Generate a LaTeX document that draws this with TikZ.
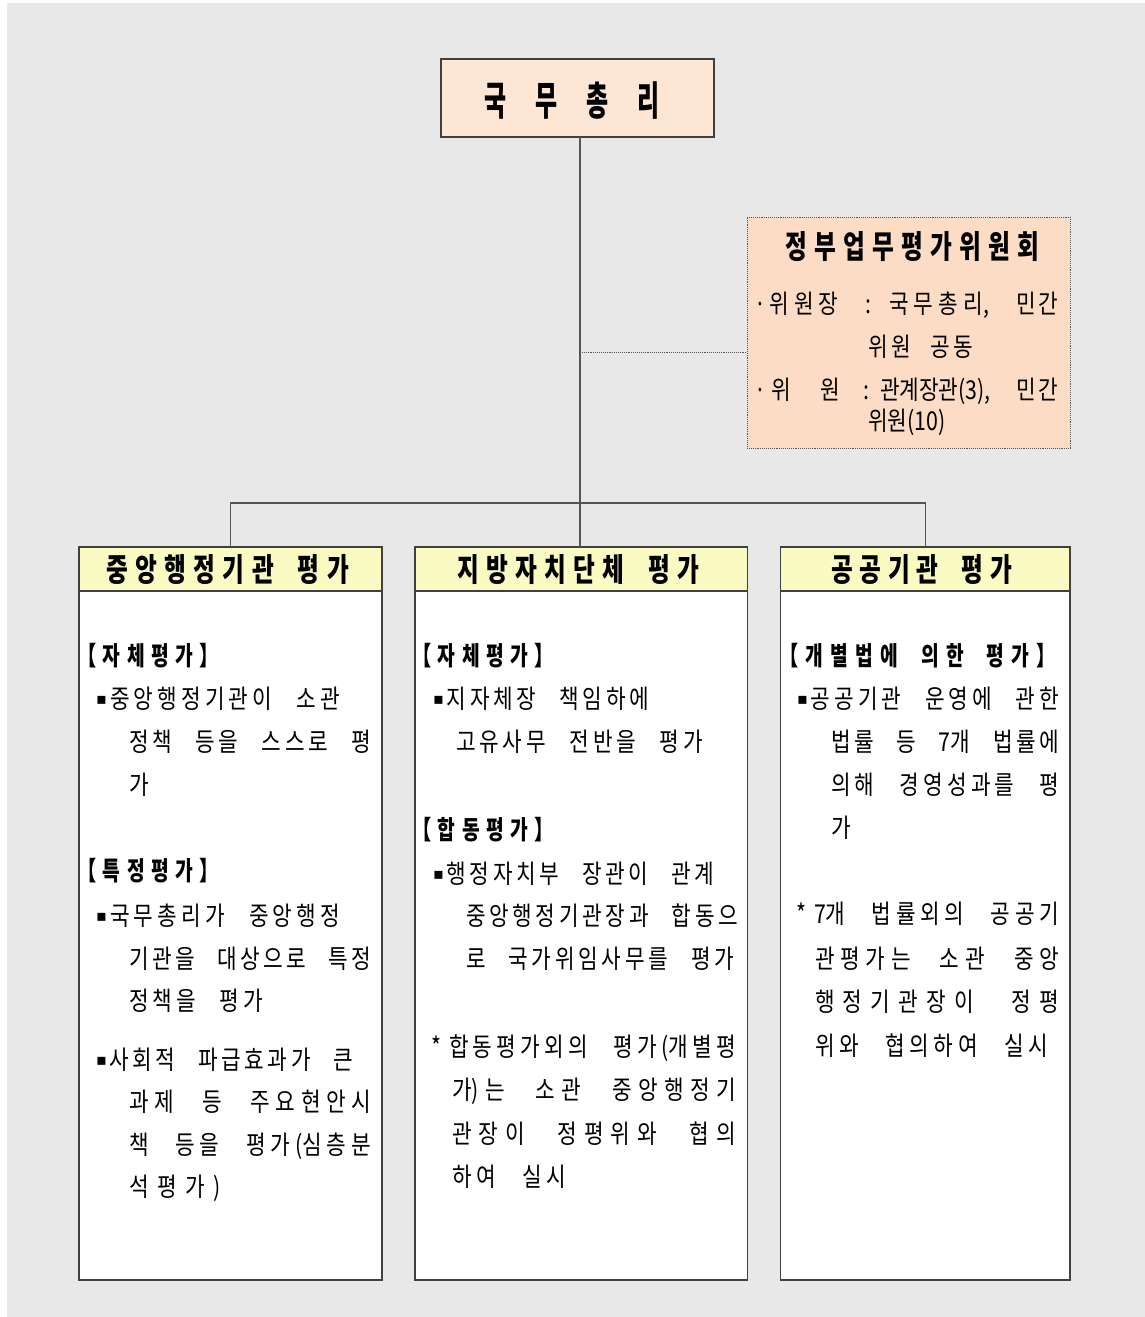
\documentclass[tikz,border=0pt]{standalone}
\usepackage{fontspec}
\usepackage{graphicx}
\newfontfamily\krA[FakeStretch=0.82]{Noto Sans CJK KR}
\newfontfamily\krB[FakeStretch=0.74]{Noto Sans CJK KR}
\newfontfamily\krT[FakeStretch=0.6]{Noto Sans CJK KR}
\newfontfamily\dvs{DejaVu Sans}
\definecolor{bg}{HTML}{E8E8E8}
\definecolor{bdr}{HTML}{404040}
\definecolor{lnc}{HTML}{555555}
\definecolor{pmfill}{HTML}{FDE6D3}
\definecolor{cmfill}{HTML}{FCDCC4}
\definecolor{hdfill}{HTML}{FAFAC3}
\newcommand\bul{\makebox[10pt][l]{\raisebox{4pt}{\dvs\fontsize{16}{16}\selectfont ▪}}}
\newcommand\mdot{\makebox[10pt][c]{·}}
\newcommand\bt{\krA\fontsize{26}{26}\selectfont}
\newcommand\hb{\krB\bfseries\fontsize{26}{26}\selectfont}
\newcommand\hh{\krB\bfseries\fontsize{32}{32}\selectfont}
\ExplSyntaxOn
\tl_new:N \l_my_wordglue_tl
\cs_new:Npn \my_spread_item:n #1
  { \str_if_eq:nnTF {#1} {|} { \hskip \l_my_wordglue_tl } { #1 \hskip 0pt plus 1fil } }
\NewDocumentCommand \spread { O{12pt~plus~2fil} m m }
  { \tl_set:Nn \l_my_wordglue_tl {#1}
    \hbox to #2 { \tl_map_function:nN {#3} \my_spread_item:n \unskip } }
\ExplSyntaxOff
\begin{document}
\begin{tikzpicture}[x=1pt,y=-1pt,
  txt/.style={anchor=base west, inner sep=0pt, outer sep=0pt},
  box/.style={draw=bdr, line width=1.3pt, inner sep=0pt, outer sep=0pt},
  conn/.style={draw=lnc, line width=1.4pt},
  dline/.style={draw=lnc, line width=0.9pt, densely dotted}]
\useasboundingbox (0,0) rectangle (1145,1317);
\fill[bg] (7,3) rectangle (1145,1317);

% connector points
\coordinate (j) at (580,503);
\coordinate (d) at (580,352);

% boxes
\node[box, fill=pmfill, minimum width=273pt, minimum height=78pt] (pm) at (577.5,98) {};
\node[box, draw=lnc, line width=0.9pt, densely dotted, fill=cmfill, minimum width=323pt, minimum height=231pt] (cmt) at (908.5,332.5) {};

\node[box, fill=white, minimum width=303pt, minimum height=733pt] (bL) at (230.5,913.5) {};
\node[box, fill=white, minimum width=332.5pt, minimum height=733pt] (bM) at (581.25,913.5) {};
\node[box, fill=white, minimum width=289.5pt, minimum height=733pt] (bR) at (925.25,913.5) {};
\node[box, fill=hdfill, minimum width=303pt, minimum height=44pt] (hL) at (230.5,569) {};
\node[box, fill=hdfill, minimum width=332.5pt, minimum height=44pt] (hM) at (581.25,569) {};
\node[box, fill=hdfill, minimum width=289.5pt, minimum height=44pt] (hR) at (925.25,569) {};

\draw[conn] (pm.south -| j) -- (j);
\draw[conn] (hL.north) |- (j) -| (hR.north);
\draw[conn] (j) -- (j |- hM.north);
\draw[dline] (d) -- (d -| cmt.west);

% title
\node[txt] (pmt) at (484,115) {\krT\bfseries\fontsize{40}{40}\selectfont\spread{176pt}{국무총리}};

% committee
\node[txt] (ct) at (785,258) {\hh\spread{254pt}{정부업무평가위원회}};
\node[txt] (c1a) at (755,313) {\bt\spread{83pt}{{\mdot}위원장}};
\node[txt] (c1b) at (865,313) {\bt :};
\node[txt] (c1c) at (889,313) {\bt\spread{100pt}{국무총{리,}}};
\node[txt] (c1d) at (1016,313) {\bt\spread{42pt}{민간}};
\node[txt] (c2) at (868,356) {\bt\spread[8pt plus 2fil]{105pt}{위원|공동}};
\node[txt] (c3a) at (755,399) {\bt\spread{36pt}{{\mdot}위}};
\node[txt] (c3b) at (820,399) {\bt 원};
\node[txt] (c3c) at (863,399) {\bt :};
\node[txt] (c3d) at (880,399) {\bt 관계장관(3),};
\node[txt] (c3e) at (1016,399) {\bt\spread{42pt}{민간}};
\node[txt] (c4) at (868,430) {\bt 위원(10)};

% header titles
\node[txt] (h1t) at (106,581) {\hh\spread[9pt plus 1fil]{243pt}{중앙행정기관|평가}};
\node[txt] (h2t) at (457,581) {\hh\spread[9pt plus 1fil]{242pt}{지방자치단체|평가}};
\node[txt] (h3t) at (831,581) {\hh\spread[9pt plus 1fil]{181pt}{공공기관|평가}};

% left column
\node[txt] (la0) at (77,665) {\hb\spread{142pt}{【자체평가】}};
\node[txt] (la1) at (96,708) {\bt\spread{244pt}{{\bul}중앙행정기관이|소관}};
\node[txt] (la2) at (129,751) {\bt\spread{242pt}{정책|등을|스스로|평}};
\node[txt] (la3) at (129,794) {\bt 가};
\node[txt] (lb0) at (77,880) {\hb\spread{142pt}{【특정평가】}};
\node[txt] (lb1) at (96,925) {\bt\spread{244pt}{{\bul}국무총리가|중앙행정}};
\node[txt] (lb2) at (129,968) {\bt\spread{242pt}{기관을|대상으로|특정}};
\node[txt] (lb3) at (129,1010) {\bt\spread{134pt}{정책을|평가}};
\node[txt] (lb4) at (96,1069) {\bt\spread{257pt}{{\bul}사회적|파급효과가|큰}};
\node[txt] (lb5) at (129,1111) {\bt\spread{242pt}{과제|등|주요현안시}};
\node[txt] (lb6) at (129,1154) {\bt\spread{242pt}{책|등을|평가{(심}층분}};
\node[txt] (lb7) at (129,1196) {\bt\spread{92pt}{석평가)}};

% middle column
\node[txt] (ma0) at (412,665) {\hb\spread{142pt}{【자체평가】}};
\node[txt] (ma1) at (433,708) {\bt\spread{216pt}{{\bul}지자체장|책임하에}};
\node[txt] (ma2) at (456,751) {\bt\spread{247pt}{고유사무|전반을|평가}};
\node[txt] (mb0) at (412,839) {\hb\spread{142pt}{【합동평가】}};
\node[txt] (mb1) at (433,883) {\bt\spread{281pt}{{\bul}행정자치부|장관이|관계}};
\node[txt] (mb2) at (466,925) {\bt\spread{272pt}{중앙행정기관장과|합동으}};
\node[txt] (mb3) at (466,968) {\bt\spread{268pt}{로|국가위임사무를|평가}};
\node[txt] (mc0) at (431,1056) {\bt *};
\node[txt] (mc1) at (449,1056) {\bt\spread{287pt}{합동평가외의|평가{(개}별평}};
\node[txt] (mc2) at (452,1099) {\bt\spread{284pt}{{가)}는|소관|중앙행정기}};
\node[txt] (mc3) at (452,1143) {\bt\spread{284pt}{관장이|정평위와|협의}};
\node[txt] (mc4) at (452,1186) {\bt\spread{114pt}{하여|실시}};

% right column
\node[txt] (ra0) at (779,665) {\hb\spread[8pt plus 1fil]{277pt}{【개별법에|의한|평가】}};
\node[txt] (ra1) at (797,708) {\bt\spread{262pt}{{\bul}공공기관|운영에|관한}};
\node[txt] (ra2) at (831,751) {\bt\spread{228pt}{법률|등|{7개}|법률에}};
\node[txt] (ra3) at (831,794) {\bt\spread{228pt}{의해|경영성과를|평}};
\node[txt] (ra4) at (831,837) {\bt 가};
\node[txt] (rb0) at (796,923) {\bt *};
\node[txt] (rb1) at (814,923) {\bt\spread{245pt}{{7개}|법률외의|공공기}};
\node[txt] (rb2) at (815,968) {\bt\spread{244pt}{관평가는|소관|중앙}};
\node[txt] (rb3) at (815,1011) {\bt\spread{244pt}{행정기관장이|정평}};
\node[txt] (rb4) at (815,1055) {\bt\spread{233pt}{위와|협의하여|실시}};
\end{tikzpicture}
\end{document}
